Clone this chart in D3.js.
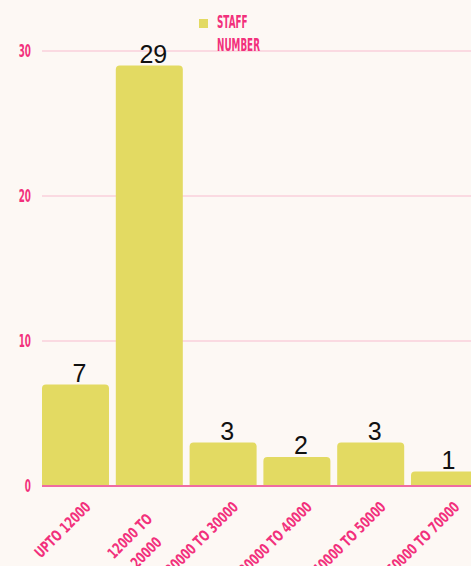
<!DOCTYPE html>
<html lang="en">
<head>
    <meta charset="UTF-8">
    <script src="https://d3js.org/d3.v7.min.js"></script>
    <title>Staff Number</title>
    <style>
        body {
            margin: 0;
            background-color: #fdf8f4;
            overflow: hidden;
        }
        svg {
            display: block;
        }
        .pink {
            font-family: "Liberation Sans Narrow", "DejaVu Sans Condensed", sans-serif;
            font-weight: bold;
            fill: #f2307c;
        }
    </style>
</head>
<body>
    <svg id="chart" width="471" height="566"></svg>

    <script>
        // data
        const categories = [["UPTO 12000"], ["12000 TO", "20000"], ["20000 TO 30000"], ["30000 TO 40000"], ["40000 TO 50000"], ["60000 TO 70000"]];
        const staffNumber = [7, 29, 3, 2, 3, 1];
        const yTicks = [0, 10, 20, 30];
        const legendLines = ["STAFF", "NUMBER"];

        const svg = d3.select("#chart");
        const barColor = "#e3da62";

        const plotLeft = 42, plotRight = 478, plotTop = 51, plotBottom = 486;

        // squeeze factor so the bold sans looks like a condensed display face
        function squeeze(sample, size, target) {
            const t = svg.append("text").attr("class", "pink").attr("font-size", size).text(sample);
            const w = t.node().getComputedTextLength();
            t.remove();
            return target / w;
        }
        const kBig = squeeze("NUMBER", 17, 43);
        const kSmall = squeeze("UPTO 12000", 15, 72);

        const x = d3.scaleBand()
            .domain(d3.range(categories.length))
            .range([plotLeft, plotRight])
            .paddingInner(0.092)
            .paddingOuter(0);

        const y = d3.scaleLinear()
            .domain([0, 30])
            .range([plotBottom, plotTop]);

        // gridlines + tick labels
        svg.append("g").selectAll("line")
            .data(yTicks.filter(d => d > 0))
            .join("line")
            .attr("x1", plotLeft).attr("x2", 471)
            .attr("y1", d => y(d)).attr("y2", d => y(d))
            .attr("stroke", "#f8bccf")
            .attr("stroke-width", 1);

        svg.append("g").selectAll("g")
            .data(yTicks)
            .join("g")
            .attr("transform", d => `translate(31, ${y(d)})`)
            .append("text")
            .attr("class", "pink")
            .attr("transform", `scale(${kBig}, 1)`)
            .attr("dy", "0.36em")
            .attr("text-anchor", "end")
            .attr("font-size", 17)
            .text(d => d);

        // bars with rounded top corners
        const r = 4;
        svg.append("g").selectAll("path")
            .data(staffNumber)
            .join("path")
            .attr("fill", barColor)
            .attr("d", (d, i) => {
                const x0 = x(i), w = x.bandwidth(), y0 = y(d);
                return `M${x0},${plotBottom} V${y0 + r} Q${x0},${y0} ${x0 + r},${y0} H${x0 + w - r} Q${x0 + w},${y0} ${x0 + w},${y0 + r} V${plotBottom} Z`;
            });

        // baseline
        svg.append("line")
            .attr("x1", plotLeft).attr("x2", 471)
            .attr("y1", y(0)).attr("y2", y(0))
            .attr("stroke", "#f06ba2")
            .attr("stroke-width", 2);

        // value labels
        svg.append("g").selectAll("text")
            .data(staffNumber)
            .join("text")
            .attr("x", (d, i) => x(i) + x.bandwidth() / 2 + 4)
            .attr("y", d => y(d) - 3)
            .attr("text-anchor", "middle")
            .attr("font-family", "Liberation Sans, Arial, sans-serif")
            .attr("font-size", 25)
            .attr("fill", "#111")
            .text(d => d);

        // x labels, rotated
        const xLabels = svg.append("g").selectAll("g")
            .data(categories)
            .join("g")
            .attr("transform", (d, i) => `translate(${x(i) + x.bandwidth() / 2 + 16}, 508) rotate(-45)`);

        xLabels.each(function (lines) {
            const g = d3.select(this);
            lines.forEach((line, k) => {
                g.append("text")
                    .attr("class", "pink")
                    .attr("font-size", 15)
                    .attr("transform", `scale(${kSmall}, 1)`)
                    .attr("x", (lines.length > 1 ? -45 : 0) / kSmall)
                    .attr("y", k * 23)
                    .attr("text-anchor", lines.length > 1 ? "middle" : "end")
                    .text(line);
            });
        });

        // legend
        const legend = svg.append("g").attr("transform", "translate(199, 19)");
        legend.append("rect")
            .attr("width", 9).attr("height", 9)
            .attr("fill", barColor);
        legend.selectAll("g")
            .data(legendLines)
            .join("g")
            .attr("transform", (d, i) => `translate(18, ${3 + i * 23})`)
            .append("text")
            .attr("class", "pink")
            .attr("transform", `scale(${kBig}, 1)`)
            .attr("font-size", 17)
            .attr("dy", "0.36em")
            .text(d => d);
    </script>
</body>
</html>
